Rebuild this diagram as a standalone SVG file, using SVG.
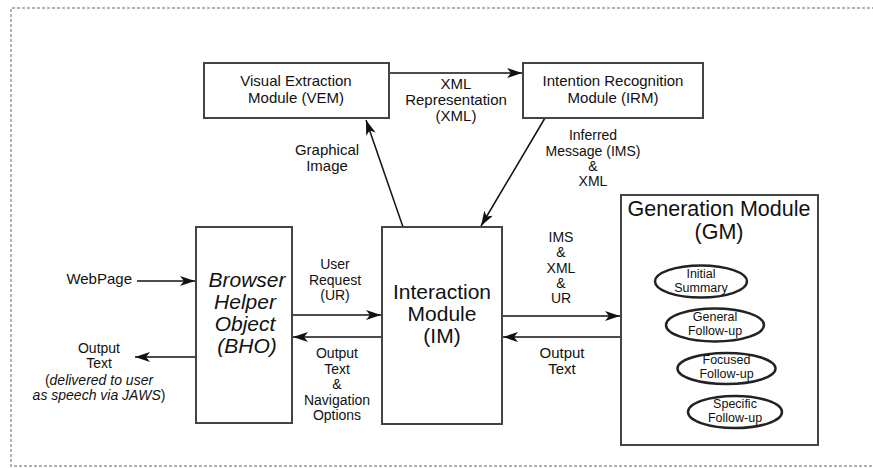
<svg xmlns="http://www.w3.org/2000/svg" width="873" height="468" viewBox="0 0 873 468">
<style>
text{font-family:"Liberation Sans",Arial,sans-serif;fill:#111;text-anchor:middle}
.s15{font-size:15px}
.s14{font-size:14px}
.s13{font-size:12.5px}
.big{font-size:21px}
.it{font-style:italic}
.box{fill:#fff;stroke:#444;stroke-width:2}
.ell{fill:#fff;stroke:#222;stroke-width:2.5}
.con{fill:none;stroke:#111;stroke-width:1.5}
</style>
<defs>
<marker id="ah" markerUnits="userSpaceOnUse" markerWidth="16" markerHeight="10" refX="15" refY="5" orient="auto">
<path d="M0,0 L15,5 L0,10 L4,5 Z" fill="#111"/>
</marker>
</defs>
<rect width="873" height="468" fill="#fff"/>
<path d="M880,8 H11 V466 H880" fill="none" stroke="#999" stroke-width="1.5" stroke-dasharray="3,2"/>

<g id="connectors">
<line class="con" x1="389" y1="73" x2="522" y2="73" marker-end="url(#ah)"/>
<line class="con" x1="403" y1="227" x2="366" y2="120" marker-end="url(#ah)"/>
<line class="con" x1="545" y1="118" x2="481" y2="226" marker-end="url(#ah)"/>
<line class="con" x1="137" y1="281" x2="195" y2="281" marker-end="url(#ah)"/>
<line class="con" x1="196" y1="357" x2="135" y2="357" marker-end="url(#ah)"/>
<line class="con" x1="292" y1="315" x2="381" y2="315" marker-end="url(#ah)"/>
<line class="con" x1="382" y1="337" x2="293" y2="337" marker-end="url(#ah)"/>
<line class="con" x1="502" y1="316" x2="620" y2="316" marker-end="url(#ah)"/>
<line class="con" x1="621" y1="337" x2="503" y2="337" marker-end="url(#ah)"/>
<text class="s15" x="456" y="89">XML</text>
<text class="s15" x="456" y="105">Representation</text>
<text class="s15" x="456" y="121">(XML)</text>
<text class="s15" x="327" y="155">Graphical</text>
<text class="s15" x="327" y="171">Image</text>
<text class="s14" x="593" y="140">Inferred</text>
<text class="s14" x="593" y="156">Message (IMS)</text>
<text class="s14" x="593" y="171">&amp;</text>
<text class="s14" x="593" y="186">XML</text>
<text class="s15" x="132" y="284" style="text-anchor:end">WebPage</text>
<text class="s14" x="99" y="353">Output</text>
<text class="s14" x="99" y="368">Text</text>
<text class="s14" x="99" y="385">(<tspan class="it">delivered to user</tspan></text>
<text class="s14" x="99" y="400"><tspan class="it">as speech via JAWS</tspan>)</text>
<text class="s14" x="335" y="269">User</text>
<text class="s14" x="335" y="285">Request</text>
<text class="s14" x="335" y="300">(UR)</text>
<text class="s14" x="337" y="358">Output</text>
<text class="s14" x="337" y="374">Text</text>
<text class="s14" x="337" y="389">&amp;</text>
<text class="s14" x="337" y="405">Navigation</text>
<text class="s14" x="337" y="420">Options</text>
<text class="s14" x="561" y="242">IMS</text>
<text class="s14" x="561" y="257">&amp;</text>
<text class="s14" x="561" y="273">XML</text>
<text class="s14" x="561" y="288">&amp;</text>
<text class="s14" x="561" y="303">UR</text>
<text class="s15" x="562" y="358">Output</text>
<text class="s15" x="562" y="374">Text</text>
</g>

<g id="vem">
<rect class="box" x="204" y="63" width="185" height="55"/>
<text class="s15" x="296" y="86">Visual Extraction</text>
<text class="s15" x="296" y="103">Module (VEM)</text>
</g>
<g id="irm">
<rect class="box" x="523" y="63" width="180" height="55"/>
<text class="s15" x="613" y="86">Intention Recognition</text>
<text class="s15" x="613" y="103">Module (IRM)</text>
</g>
<g id="bho">
<rect class="box" x="196" y="227" width="96" height="196"/>
<text class="big it" x="247" y="287">Browser</text>
<text class="big it" x="245" y="309">Helper</text>
<text class="big it" x="245" y="331">Object</text>
<text class="big it" x="247" y="353">(BHO)</text>
</g>
<g id="im">
<rect class="box" x="382" y="227" width="120" height="197"/>
<text class="big" x="442" y="299">Interaction</text>
<text class="big" x="442" y="321">Module</text>
<text class="big" x="442" y="343">(IM)</text>
</g>
<g id="gm">
<rect class="box" x="621" y="195" width="197" height="250"/>
<text class="big" x="719" y="216" style="font-size:21.5px">Generation Module</text>
<text class="big" x="719" y="239" style="font-size:21.5px">(GM)</text>
</g>
<g id="initial">
<ellipse class="ell" cx="701" cy="281.5" rx="46" ry="16"/>
<text class="s13" x="701" y="278">Initial</text>
<text class="s13" x="701" y="292">Summary</text>
</g>
<g id="general">
<ellipse class="ell" cx="715" cy="325" rx="49" ry="16.5"/>
<text class="s13" x="715" y="321">General</text>
<text class="s13" x="715" y="335">Follow-up</text>
</g>
<g id="focused">
<ellipse class="ell" cx="726.5" cy="368.5" rx="49" ry="15.5"/>
<text class="s13" x="726.5" y="364">Focused</text>
<text class="s13" x="726.5" y="378">Follow-up</text>
</g>
<g id="specific">
<ellipse class="ell" cx="735" cy="412" rx="47" ry="16"/>
<text class="s13" x="735" y="408">Specific</text>
<text class="s13" x="735" y="422">Follow-up</text>
</g>
</svg>
